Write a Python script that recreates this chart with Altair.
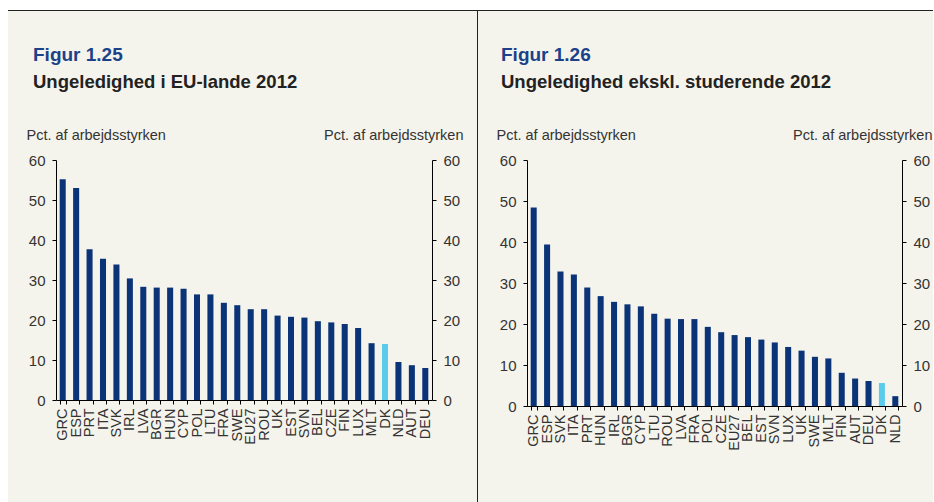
import altair as alt
import pandas as pd

# ---- data ----
left_countries = ["GRC", "ESP", "PRT", "ITA", "SVK", "IRL", "LVA", "BGR", "HUN", "CYP",
                  "POL", "LTU", "FRA", "SWE", "EU27", "ROU", "UK", "EST", "SVN", "BEL",
                  "CZE", "FIN", "LUX", "MLT", "DK", "NLD", "AUT", "DEU"]
left_values = [55.2, 53.0, 37.7, 35.3, 33.9, 30.4, 28.3, 28.1, 28.1, 27.8,
               26.4, 26.4, 24.3, 23.7, 22.7, 22.7, 21.1, 20.8, 20.6, 19.7,
               19.4, 19.0, 18.0, 14.2, 14.0, 9.5, 8.7, 8.0]

right_countries = ["GRC", "ESP", "SVK", "ITA", "PRT", "HUN", "IRL", "BGR", "CYP", "LTU",
                   "ROU", "LVA", "FRA", "POL", "CZE", "EU27", "BEL", "EST", "SVN", "LUX",
                   "UK", "SWE", "MLT", "FIN", "AUT", "DEU", "DK", "NLD"]
right_values = [48.4, 39.4, 32.8, 32.1, 28.9, 26.8, 25.4, 24.8, 24.3, 22.5,
                21.3, 21.2, 21.2, 19.3, 18.0, 17.3, 16.8, 16.2, 15.5, 14.4,
                13.5, 12.0, 11.6, 8.1, 6.7, 6.1, 5.6, 2.4]

y_ticks = [0, 10, 20, 30, 40, 50, 60]
highlight = "DK"
axis_title = "Pct. af arbejdsstyrken"

NAVY = "#0B3478"
LIGHT = "#5BCBEB"
CREAM = "#F5F4EC"
BLUE_T = "#1B4289"
LINE = "#222222"
FONT = "Liberation Sans"

one = alt.Data(values=[{"k": 1}])


def panel(countries, values, fig, subtitle, width, height, title_dx,
          ltitle_x, rtitle_x, bg_x1, bg_x2, divider_x=None):
    df = pd.DataFrame({"land": countries, "pct": values})
    df["gruppe"] = ["DK" if c == highlight else "EU" for c in countries]

    x_enc = alt.X(
        "land:N", sort=countries, title=None,
        scale=alt.Scale(paddingInner=0.55, paddingOuter=0.275),
        axis=alt.Axis(labelAngle=270, labelAlign="right", labelBaseline="middle",
                      tickBand="extent", tickSize=4, labelPadding=4, zindex=2,
                      labelFontSize=14.5, labelColor="#333333", labelFont=FONT,
                      domainColor="black", tickColor="black"),
    )
    yscale = alt.Scale(domain=[0, 60], nice=False)
    common_axis = dict(values=y_ticks, tickSize=4, labelPadding=7, labelFontSize=15,
                       labelColor="#333333", labelFont=FONT, domainColor="black",
                       tickColor="black", grid=False, title=axis_title, titleAngle=0,
                       titleFontSize=14.5, titleFontWeight="normal", titleColor="#333333",
                       titleFont=FONT, titleBaseline="alphabetic", titleY=-21, zindex=2)

    bg = alt.Chart(one).mark_rect(color=CREAM).encode(
        x=alt.value(bg_x1), x2=alt.value(bg_x2), y=alt.value(-150), y2=alt.value(342))
    top_line = alt.Chart(one).mark_rect(color=LINE).encode(
        x=alt.value(bg_x1), x2=alt.value(bg_x2), y=alt.value(-150), y2=alt.value(-149))

    bars = alt.Chart(df).mark_bar().encode(
        x=x_enc,
        y=alt.Y("pct:Q", scale=yscale,
                axis=alt.Axis(orient="left", titleAlign="left", titleX=ltitle_x, **common_axis)),
        color=alt.Color("gruppe:N", scale=alt.Scale(domain=["EU", "DK"], range=[NAVY, LIGHT]),
                        legend=None),
    )
    bars_r = alt.Chart(df).mark_bar(opacity=0).encode(
        x=x_enc,
        y=alt.Y("pct:Q", scale=yscale,
                axis=alt.Axis(orient="right", titleAlign="right", titleX=rtitle_x, **common_axis)),
    )
    t1 = alt.Chart(one).mark_text(align="left", baseline="alphabetic", font=FONT,
                                  fontSize=19, fontWeight="bold", color=BLUE_T).encode(
        x=alt.value(title_dx), y=alt.value(-99), text=alt.value(fig))
    t2 = alt.Chart(one).mark_text(align="left", baseline="alphabetic", font=FONT,
                                  fontSize=18.5, fontWeight="bold", color="#222222").encode(
        x=alt.value(title_dx), y=alt.value(-72), text=alt.value(subtitle))

    layers = [bg, top_line, bars, bars_r, t1, t2]
    if divider_x is not None:
        layers.append(alt.Chart(one).mark_rect(color=LINE).encode(
            x=alt.value(divider_x), x2=alt.value(divider_x + 1),
            y=alt.value(-150), y2=alt.value(342)))
    return alt.layer(*layers).resolve_scale(y="independent").properties(
        width=width, height=height)


left = panel(left_countries, left_values, "Figur 1.25", "Ungeledighed i EU-lande 2012",
             376, 240, -23, -30, 31, -48, 422, divider_x=421)
right = panel(right_countries, right_values, "Figur 1.26", "Ungeledighed ekskl. studerende 2012",
              375, 246, -26, -31, 30, -49, 406)

chart = alt.hconcat(left, right, spacing=0).properties(
    padding={"left": 8, "top": 10, "right": 1, "bottom": 0},
    background="white",
).configure_view(stroke=None).configure_axis(grid=False)

chart.save("out.html", embed_options={"renderer": "svg", "actions": False})
